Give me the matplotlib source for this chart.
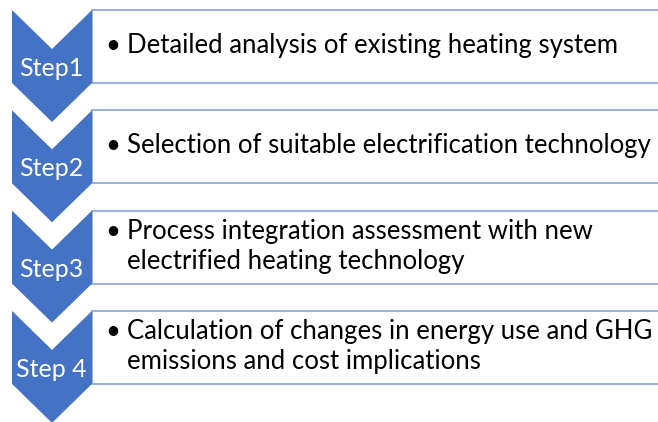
import matplotlib.pyplot as plt
from matplotlib.patches import Polygon, Rectangle

# Step labels and the text lines next to each chevron
steps = ['Step1', 'Step2', 'Step3', 'Step 4']
descriptions = [
    ['Detailed analysis of existing heating system'],
    ['Selection of suitable electrification technology'],
    ['Process integration assessment with new', 'electrified heating technology'],
    ['Calculation of changes in energy use and GHG', 'emissions and cost implications'],
]

W, H = 658, 422
chev_blue = '#4472C4'
line_blue = '#8FAADC'
font = ['Lato', 'DejaVu Sans']
fs = 18.5
fs_step = 18

fig = plt.figure(figsize=(W / 100, H / 100), dpi=100)
ax = fig.add_axes([0, 0, 1, 1])
ax.set_xlim(0, W)
ax.set_ylim(H, 0)
ax.axis('off')

# layout (pixels)
top0, pitch = 10, 100.3
x_left, x_right = 12, 92
body = 73      # straight part of the chevron / height of the text box
tip = 39       # depth of point and notch
x_mid = (x_left + x_right) / 2

for i, (lab, lines) in enumerate(zip(steps, descriptions)):
    y0 = top0 + i * pitch
    # text box, only top/bottom lines visible
    ax.add_patch(Rectangle((x_right, y0), W, body, facecolor='white',
                           edgecolor=line_blue, lw=1.3, zorder=1))
    # chevron pointing down
    pts = [(x_left, y0), (x_mid, y0 + tip), (x_right, y0),
           (x_right, y0 + body), (x_mid, y0 + body + tip), (x_left, y0 + body)]
    ax.add_patch(Polygon(pts, closed=True, facecolor=chev_blue,
                         edgecolor='none', zorder=2))
    ax.text(x_mid - 1, y0 + 66, lab, color='white', fontsize=fs_step,
            family=font, ha='center', va='baseline', zorder=3)

    mid = y0 + body / 2 + 6.5
    n = len(lines)
    for j, line in enumerate(lines):
        yb = mid + (j - (n - 1) / 2) * 30
        if j == 0:
            ax.text(113, yb, '\u2022', color='black', fontsize=fs, family=font,
                    ha='center', va='baseline', zorder=3)
        ax.text(127, yb, line, color='black', fontsize=fs, family=font,
                ha='left', va='baseline', zorder=3)

fig.savefig('out.png', dpi=100, facecolor='white')
